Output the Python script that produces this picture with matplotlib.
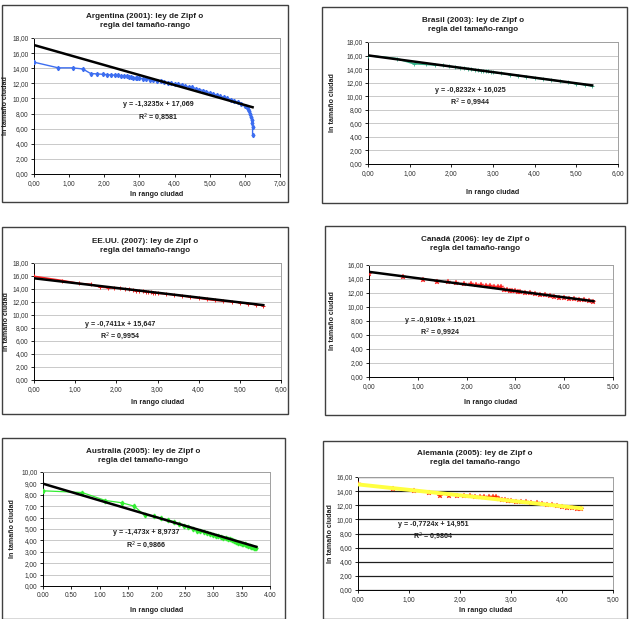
import matplotlib
matplotlib.use("Agg")
import matplotlib.pyplot as plt
from matplotlib.patches import Rectangle
from matplotlib.ticker import FuncFormatter

plt.rcParams['font.family'] = ['Liberation Sans', 'DejaVu Sans']

W, H = 630, 619

# --- data (ln rango, ln tamaño) ---
arg_x = [0.00, 0.69, 1.10, 1.39, 1.61, 1.79, 1.95, 2.08, 2.20, 2.30, 2.40, 2.48, 2.56, 2.64,
         2.71, 2.77, 2.83, 2.89, 2.94, 3.00, 3.10, 3.20, 3.30, 3.40, 3.50, 3.60, 3.70, 3.80,
         3.90, 4.00, 4.10, 4.20, 4.30, 4.40, 4.50, 4.60, 4.70, 4.80, 4.90, 5.00, 5.10, 5.20,
         5.30, 5.40, 5.50, 5.60, 5.70, 5.80, 5.90, 6.00, 6.05, 6.10, 6.13, 6.16, 6.18, 6.20,
         6.21, 6.22, 6.22]
arg_y = [14.80, 14.05, 14.05, 13.90, 13.30, 13.25, 13.20, 13.15, 13.10, 13.10, 13.05, 13.00,
         13.00, 12.95, 12.85, 12.80, 12.75, 12.72, 12.70, 12.68, 12.62, 12.56, 12.50, 12.42,
         12.35, 12.25, 12.15, 12.05, 11.98, 11.95, 11.85, 11.75, 11.65, 11.55, 11.45, 11.30,
         11.18, 11.05, 10.90, 10.75, 10.60, 10.45, 10.30, 10.15, 10.00, 9.85, 9.70, 9.50,
         9.30, 9.05, 8.85, 8.60, 8.35, 8.00, 7.60, 7.20, 6.80, 6.20, 5.10]

bra_x = [0.00, 0.69, 1.10, 1.39, 1.61, 1.79, 1.95, 2.08, 2.20, 2.30, 2.40, 2.48, 2.56, 2.64,
         2.71, 2.77, 2.83, 2.89, 2.94, 3.00, 3.20, 3.40, 3.60, 3.80, 4.00, 4.20, 4.40, 4.60,
         4.80, 5.00, 5.20, 5.38]
bra_y = [16.00, 15.55, 14.80, 14.70, 14.60, 14.55, 14.40, 14.30, 14.20, 14.15, 14.05, 13.95,
         13.90, 13.80, 13.75, 13.70, 13.70, 13.65, 13.60, 13.55, 13.40, 13.20, 13.05, 12.90,
         12.70, 12.55, 12.40, 12.20, 12.05, 11.85, 11.70, 11.50]

usa_x = [0.00, 0.69, 1.10, 1.39, 1.61, 1.79, 1.95, 2.08, 2.20, 2.30, 2.40, 2.48, 2.56, 2.64,
         2.71, 2.77, 2.83, 2.89, 2.94, 3.00, 3.20, 3.40, 3.60, 3.80, 4.00, 4.20, 4.40, 4.60,
         4.80, 5.00, 5.20, 5.40, 5.57]
usa_y = [15.95, 15.30, 14.85, 14.70, 14.30, 14.20, 14.15, 14.10, 14.00, 13.95, 13.85, 13.75,
         13.70, 13.65, 13.60, 13.55, 13.50, 13.45, 13.40, 13.35, 13.25, 13.10, 12.95, 12.75,
         12.60, 12.40, 12.25, 12.15, 12.05, 11.90, 11.75, 11.60, 11.45]

can_x = [0.00, 0.69, 1.10, 1.39, 1.61, 1.79, 1.95, 2.08, 2.20, 2.30, 2.40, 2.48, 2.56, 2.64,
         2.71, 2.77, 2.83, 2.89, 2.94, 3.00, 3.05, 3.10, 3.20, 3.30, 3.40, 3.50, 3.60, 3.70,
         3.80, 3.90, 4.00, 4.10, 4.20, 4.30, 4.40, 4.50, 4.60]
can_y = [14.75, 14.25, 13.80, 13.60, 13.55, 13.40, 13.35, 13.30, 13.15, 13.10, 13.05, 12.95,
         12.90, 12.85, 12.80, 12.45, 12.40, 12.35, 12.30, 12.25, 12.20, 12.15, 12.05, 11.95,
         11.85, 11.75, 11.65, 11.55, 11.45, 11.35, 11.25, 11.20, 11.10, 11.05, 10.95, 10.85,
         10.75]

aus_x = [0.00, 0.69, 1.10, 1.39, 1.61, 1.79, 1.95, 2.08, 2.20, 2.30, 2.40, 2.48, 2.56, 2.64,
         2.71, 2.77, 2.83, 2.89, 2.94, 3.00, 3.04, 3.09, 3.14, 3.18, 3.22, 3.26, 3.30, 3.33,
         3.37, 3.40, 3.43, 3.47, 3.50, 3.53, 3.56, 3.58, 3.61, 3.64, 3.66, 3.69, 3.71, 3.74,
         3.76]
aus_y = [8.35, 8.20, 7.50, 7.30, 7.00, 6.20, 6.15, 5.95, 5.80, 5.65, 5.40, 5.30, 5.15, 5.00,
         4.85, 4.80, 4.70, 4.65, 4.55, 4.45, 4.40, 4.35, 4.30, 4.25, 4.20, 4.15, 4.10, 4.00,
         3.95, 3.90, 3.80, 3.75, 3.70, 3.70, 3.65, 3.60, 3.55, 3.50, 3.45, 3.40, 3.35, 3.35,
         3.30]

ale_x = [0.00, 0.69, 1.10, 1.39, 1.61, 1.79, 1.95, 2.08, 2.20, 2.30, 2.40, 2.48, 2.56, 2.64,
         2.71, 2.77, 2.83, 2.89, 2.94, 3.00, 3.10, 3.20, 3.30, 3.40, 3.50, 3.60, 3.70, 3.80,
         3.90, 4.00, 4.10, 4.20, 4.30, 4.38]
ale_y = [15.00, 14.30, 14.00, 13.70, 13.35, 13.25, 13.25, 13.25, 13.25, 13.20, 13.15, 13.10,
         13.10, 13.10, 13.10, 12.85, 12.75, 12.70, 12.65, 12.60, 12.50, 12.45, 12.40, 12.35,
         12.30, 12.20, 12.10, 12.00, 11.90, 11.75, 11.60, 11.55, 11.50, 11.50]

# trend line coefficients (slope, intercept) as printed on each chart
fits = {
    "arg": (-1.3235, 17.069), "bra": (-0.8232, 16.025), "usa": (-0.7411, 15.647),
    "can": (-0.9109, 15.021), "aus": (-1.473, 8.9737), "ale": (-0.7724, 14.951),
}

fig = plt.figure(figsize=(W / 100, H / 100), dpi=100)


def px_axes(x0, y0, x1, y1):
    return fig.add_axes([x0 / W, 1 - y1 / H, (x1 - x0) / W, (y1 - y0) / H])


def ftext(x, y, s, **kw):
    fig.text(x / W, 1 - y / H, s, ha="center", va="center", **kw)


def panel(box, area, title, tx, ty, xlab_y, ylab_x, xmax, xstep, ymax, ystep,
          xs, ys, key, eq, r2, eqx, eqy, style, trend_color="black", trend_lw=1.8,
          grid_color="#c0c0c0", grid_lw=0.6, xdot=False):
    bx0, by0, bx1, by1 = box
    fig.patches.append(Rectangle((bx0 / W, 1 - by1 / H), (bx1 - bx0) / W, (by1 - by0) / H,
                                 transform=fig.transFigure, fill=False,
                                 edgecolor="#404040", lw=1.0))
    ax = px_axes(*area)
    ax.plot(xs, ys, **style, zorder=3)
    m, b = fits[key]
    x_end = max(xs)
    ax.plot([0, x_end], [b, b + m * x_end], color=trend_color, lw=trend_lw, zorder=4)
    ax.set_xlim(0, xmax)
    ax.set_ylim(0, ymax)
    nx = int(round(xmax / xstep))
    ny = int(round(ymax / ystep))
    ax.set_xticks([i * xstep for i in range(nx + 1)])
    ax.set_yticks([i * ystep for i in range(ny + 1)])
    if xdot:
        ax.xaxis.set_major_formatter(FuncFormatter(lambda v, p: f"{v:.2f}"))
    else:
        ax.xaxis.set_major_formatter(FuncFormatter(lambda v, p: f"{v:.2f}".replace(".", ",")))
    ax.yaxis.set_major_formatter(FuncFormatter(lambda v, p: f"{v:.2f}".replace(".", ",")))
    ax.grid(axis="y", color=grid_color, lw=grid_lw, zorder=0)
    ax.set_axisbelow(True)
    ax.tick_params(labelsize=4.7, length=2.5, width=0.6, pad=1.5, direction="out",
                   colors="black", labelcolor="#303030")
    for s in ("left", "bottom"):
        ax.spines[s].set_color("black")
        ax.spines[s].set_linewidth(0.7)
    for s in ("top", "right"):
        ax.spines[s].set_color("#a0a0a0")
        ax.spines[s].set_linewidth(0.7)
    ftext(tx, ty, title, fontsize=5.9, fontweight="bold", color="#202020", linespacing=1.5)
    ftext((area[0] + area[2]) / 2, xlab_y, "ln rango ciudad", fontsize=5.1,
          fontweight="bold", color="#202020")
    ftext(ylab_x, (area[1] + area[3]) / 2, "ln tamaño ciudad", fontsize=5.1,
          fontweight="bold", color="#202020", rotation=90)
    ftext(eqx, eqy, eq, fontsize=5.1, fontweight="bold", color="#202020")
    ftext(eqx, eqy + 12, r2, fontsize=5.1, fontweight="bold", color="#202020")
    return ax


panel((2, 5, 288, 202), (34, 38, 280, 174),
      "Argentina (2001): ley de Zipf o\nregla del tamaño-rango", 145, 21, 195, 6,
      7.0, 1.0, 18.0, 2.0, arg_x, arg_y, "arg",
      "y = -1,3235x + 17,069", "R$^2$ = 0,8581", 158, 105,
      dict(color="#3d6ef0", lw=1.0, marker="d", ms=2.2, mec="#3d6ef0"))

panel((322, 7, 627, 203), (368, 42, 618, 164),
      "Brasil (2003): ley de Zipf o\nregla del tamaño-rango", 473, 25, 192, 333,
      6.0, 1.0, 18.0, 2.0, bra_x, bra_y, "bra",
      "y = -0,8232x + 16,025", "R$^2$ = 0,9944", 470, 90,
      dict(color="#33b38a", lw=1.2, marker="+", ms=2.5, mew=0.6))

panel((2, 227, 288, 414), (34, 263, 281, 380),
      "EE.UU. (2007): ley de Zipf o\nregla del tamaño-rango", 145, 246, 403, 7,
      6.0, 1.0, 18.0, 2.0, usa_x, usa_y, "usa",
      "y = -0,7411x + 15,647", "R$^2$ = 0,9954", 120, 324,
      dict(color="#ff2020", lw=1.2, marker="+", ms=2.5, mew=0.7))

panel((325, 226, 625, 415), (369, 265, 613, 377),
      "Canadá (2006): ley de Zipf o\nregla del tamaño-rango", 475, 244, 402, 332,
      5.0, 1.0, 16.0, 2.0, can_x, can_y, "can",
      "y = -0,9109x + 15,021", "R$^2$ = 0,9924", 440, 320,
      dict(color="#ff1a1a", lw=0, marker="*", ms=3.8, mew=0.3))

panel((2, 438, 285, 619), (43, 472, 270, 586),
      "Australia (2005): ley de Zipf o\nregla del tamaño-rango", 143, 456, 610, 13,
      4.0, 0.5, 10.0, 1.0, aus_x, aus_y, "aus",
      "y = -1,473x + 8,9737", "R$^2$ = 0,9866", 146, 533,
      dict(color="#33ee33", lw=0.9, marker="d", ms=2.4, mec="#33ee33"), xdot=True)

panel((323, 441, 627, 619), (358, 477, 613, 590),
      "Alemania (2005): ley de Zipf o\nregla del tamaño-rango", 475, 458, 611, 330,
      5.0, 1.0, 16.0, 2.0, ale_x, ale_y, "ale",
      "y = -0,7724x + 14,951", "R$^2$ = 0,9864", 433, 524,
      dict(color="#ff2a00", lw=0, marker="*", ms=3.8, mew=0.3),
      trend_color="#ffff40", trend_lw=2.8, grid_color="#202020", grid_lw=0.9)

fig.savefig("out.png", dpi=100, facecolor="white")
